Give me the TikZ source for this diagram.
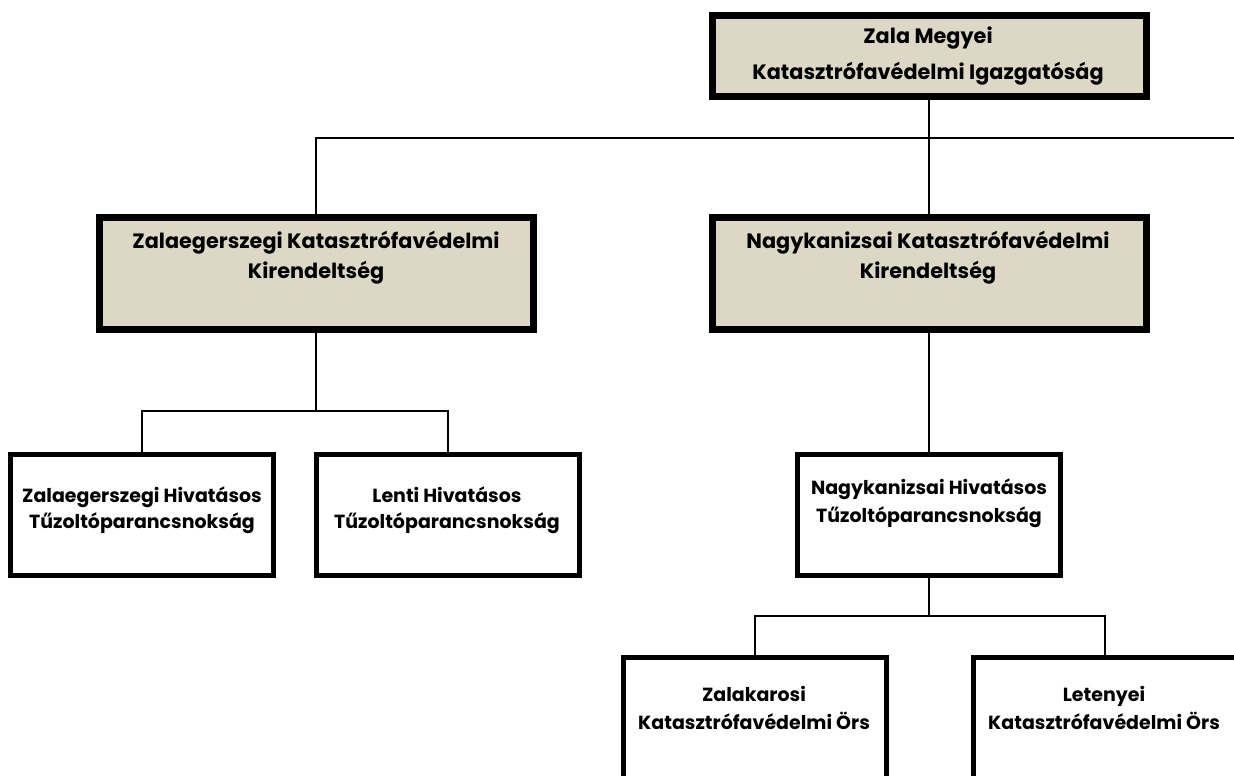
\documentclass[tikz,border=0pt]{standalone}
\usepackage{fontspec}
\setmainfont{Poppins}
\definecolor{boxfill}{RGB}{221,216,197}
\begin{document}
\begin{tikzpicture}[x=1pt,y=-1pt,
  bigbox/.style={draw=black, line width=7pt, fill=boxfill, rectangle, inner sep=0pt, outer sep=0pt, minimum width=434pt, minimum height=#1},
  smallbox/.style={draw=black, line width=5pt, fill=white, rectangle, inner sep=0pt, outer sep=0pt, minimum width=263pt, minimum height=#1},
  txt/.style={font=\bfseries\fontsize{20.8}{#1}\selectfont, align=center, inner sep=0pt},
  stxt/.style={font=\bfseries\fontsize{19}{#1}\selectfont, align=center, inner sep=0pt},
  conn/.style={line width=2pt, line cap=rect}]
\useasboundingbox (0,0) rectangle (1234,776);
\clip (0,0) rectangle (1234,776);

% boxes
\node[bigbox=81pt]  (top)  at (929,56)   {};
\node[bigbox=112pt] (midL) at (316,273.5)  {};
\node[bigbox=112pt] (midR) at (929,273.5) {};
\node[smallbox=121pt] (zegH)  at (142,515)   {};
\node[smallbox=121pt] (lenH)  at (447.5,515) {};
\node[smallbox=121pt] (nagH)  at (929,515) {};
\node[smallbox=260pt] (karO)  at (754.5,787.5) {};
\node[smallbox=260pt] (letO)  at (1104.5,787.5) {};

% texts
\node[txt=36pt] (topT)  at (928,56)  {Zala Megyei\\Katasztrófavédelmi Igazgatóság};
\node[txt=30pt] (midLT) at (316,258) {Zalaegerszegi Katasztrófavédelmi\\Kirendeltség};
\node[txt=30pt] (midRT) at (928,258) {Nagykanizsai Katasztrófavédelmi\\Kirendeltség};
\node[stxt=26pt] (zegHT) at (142,510) {Zalaegerszegi Hivatásos\\Tűzoltóparancsnokság};
\node[stxt=26pt] (lenHT) at (447,510) {Lenti Hivatásos\\Tűzoltóparancsnokság};
\node[stxt=28pt] (nagHT) at (929,503) {Nagykanizsai Hivatásos\\Tűzoltóparancsnokság};
\node[stxt=28pt] (karOT) at (754,708) {Zalakarosi\\Katasztrófavédelmi Örs};
\node[stxt=28pt] (letOT) at (1104,708) {Letenyei\\Katasztrófavédelmi Örs};

% connectors
\coordinate (busR) at (1240,138);
\coordinate (busL) at (316,138);
\coordinate (junL) at (316,411);
\coordinate (junR) at (929,616);

\draw[conn] (top.south) -- (midR.north);
\draw[conn] (busL) -- (busR);
\draw[conn] (busL) -- (midL.north);

\draw[conn] (midL.south) -- (junL);
\draw[conn] (zegH.north) |- (junL) -| (lenH.north);

\draw[conn] (midR.south) -- (nagH.north);
\draw[conn] (nagH.south) -- (junR);
\draw[conn] (karO.north) |- (junR) -| (letO.north);
\end{tikzpicture}
\end{document}
